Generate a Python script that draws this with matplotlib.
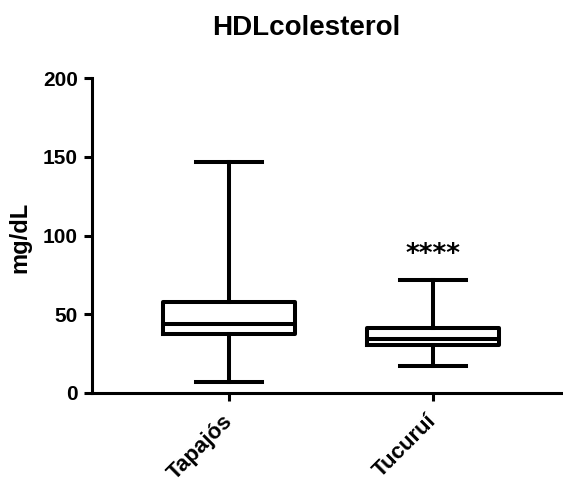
import matplotlib
matplotlib.use("Agg")
import matplotlib.pyplot as plt

plt.rcParams['font.family'] = ['Liberation Sans', 'DejaVu Sans']

# dati (mg/dL)
grupos = ["Tapajós", "Tucuruí"]
minimo = [7.2, 17.3]
q1 = [37.6, 30.6]
mediana = [44.0, 34.3]
q3 = [57.5, 41.3]
maximo = [146.4, 71.5]
signif = ["", "****"]
signif_y = [None, 87.5]

stats = []
for i in range(len(grupos)):
    stats.append({"label": grupos[i], "whislo": minimo[i], "q1": q1[i],
                  "med": mediana[i], "q3": q3[i], "whishi": maximo[i]})

fig = plt.figure(figsize=(5.63, 4.84), dpi=100)
ax = fig.add_axes([92/563, 91/484, (562-92)/563, (393-78)/484])

lw = 2.9
ax.bxp(stats, positions=[1, 2], widths=0.647, capwidths=0.32, showfliers=False,
       boxprops=dict(color='black', linewidth=lw),
       whiskerprops=dict(color='black', linewidth=lw),
       capprops=dict(color='black', linewidth=lw),
       medianprops=dict(color='black', linewidth=lw))

for i in range(len(grupos)):
    if signif[i]:
        ax.text(i + 1, signif_y[i], signif[i], ha='center', va='center',
                fontsize=19, fontweight='bold', family='DejaVu Sans')

ax.set_xlim(0.328, 2.632)
ax.set_ylim(0, 200)
ax.set_yticks([0, 50, 100, 150, 200])
ax.set_xticks([1, 2])
ax.set_xticklabels(grupos, rotation=45, ha='right', va='center',
                   rotation_mode='anchor', fontsize=16, fontweight='bold')
for lab in ax.get_yticklabels():
    lab.set_fontsize(15)
    lab.set_fontweight('bold')

for s in ['top', 'right']:
    ax.spines[s].set_visible(False)
for s in ['left', 'bottom']:
    ax.spines[s].set_linewidth(2.2)
ax.tick_params(width=2.2, length=6, direction='out', pad=4)
ax.tick_params(axis='x', pad=12)

ax.set_ylabel("mg/dL", fontsize=17, fontweight='bold')
ax.yaxis.set_label_coords(-0.128, 0.495)
fig.text(306/563, 1 - 28/484, "HDLcolesterol", ha='center', va='center',
         fontsize=20, fontweight='bold')

fig.savefig("out.png", dpi=100)
